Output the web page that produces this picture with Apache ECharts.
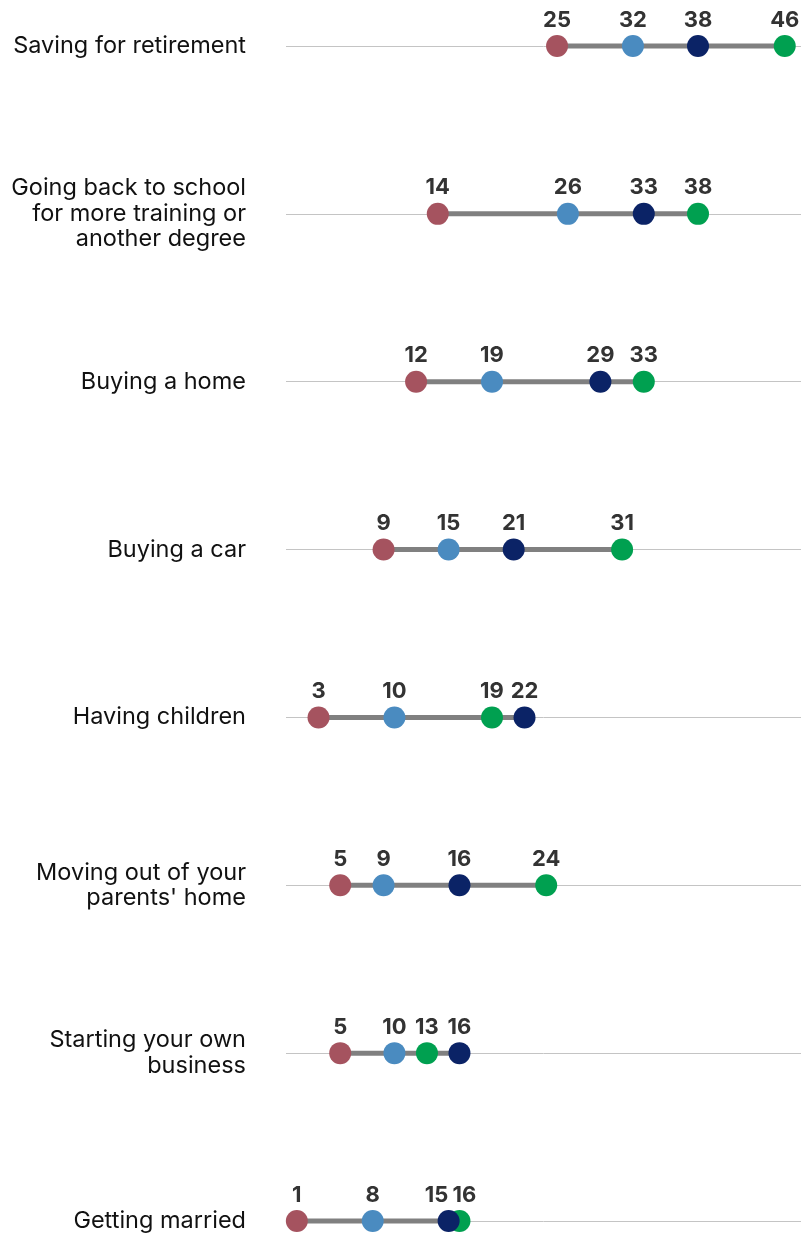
<!DOCTYPE html>
<html>
<head>
<meta charset="utf-8">
<script src="https://cdn.jsdelivr.net/npm/echarts@6/dist/echarts.min.js"></script>
<style>
  html, body { margin: 0; padding: 0; background: #ffffff; }
  #chart { width: 801px; height: 1235px; }
</style>
</head>
<body>
<div id="chart"></div>
<script>
// Life milestones, top to bottom
const categories = [
  'Saving for retirement',
  'Going back to school\nfor more training or\nanother degree',
  'Buying a home',
  'Buying a car',
  'Having children',
  "Moving out of your\nparents' home",
  'Starting your own\nbusiness',
  'Getting married'
];

// Percentages per group (same order as categories)
const groupRose  = [25, 14, 12, 9, 3, 5, 5, 1];
const groupBlue  = [32, 26, 19, 15, 10, 9, 10, 8];
const groupGreen = [46, 38, 33, 31, 19, 24, 13, 16];
const groupNavy  = [38, 33, 29, 21, 22, 16, 16, 15];

const groups = [
  { name: 'Group A', values: groupRose,  color: '#a5535f' },
  { name: 'Group B', values: groupBlue,  color: '#4a8bc0' },
  { name: 'Group C', values: groupGreen, color: '#00a050' },
  { name: 'Group D', values: groupNavy,  color: '#0b2366' }
];

// Span of each row: from the lowest to the highest value
const spans = categories.map((c, i) => {
  const vals = groups.map(g => g.values[i]);
  return [i, Math.min.apply(null, vals), Math.max.apply(null, vals)];
});

// Nudge value labels apart where two dots overlap
function labelShift(groupIdx, rowIdx) {
  const own = groups[groupIdx].values[rowIdx];
  let dx = 0;
  groups.forEach((g, k) => {
    if (k === groupIdx) return;
    const d = own - g.values[rowIdx];
    if (Math.abs(d) <= 1) dx += d > 0 ? 5 : -12;
  });
  return dx;
}

const chart = echarts.init(document.getElementById('chart'));

const option = {
  animation: false,
  grid: { left: 286, right: 0, top: 46, bottom: 14 },
  xAxis: {
    type: 'value',
    min: 0,
    max: 47.5,
    show: false
  },
  yAxis: {
    type: 'category',
    data: categories,
    inverse: true,
    boundaryGap: false,
    axisLine: { show: false },
    axisTick: { show: false },
    splitLine: { show: true, lineStyle: { color: '#c4c4c4', width: 1 } },
    axisLabel: {
      margin: 40,
      color: '#111111',
      fontFamily: 'Inter',
      fontSize: 23.5,
      lineHeight: 25.5,
      align: 'right'
    }
  },
  series: [
    {
      type: 'custom',
      z: 1,
      renderItem: function (params, api) {
        const cat = api.value(0);
        const a = api.coord([api.value(1), cat]);
        const b = api.coord([api.value(2), cat]);
        return {
          type: 'line',
          shape: { x1: a[0], y1: a[1], x2: b[0], y2: b[1] },
          style: { stroke: '#808080', lineWidth: 5 }
        };
      },
      encode: { x: [1, 2], y: 0 },
      data: spans
    }
  ].concat(groups.map((g, gi) => ({
    name: g.name,
    type: 'scatter',
    z: 2,
    symbolSize: 22,
    itemStyle: { color: g.color, opacity: 1 },
    label: {
      show: true,
      position: 'top',
      distance: 4,
      color: '#333333',
      fontFamily: 'Inter',
      fontWeight: 'bold',
      fontSize: 22,
      formatter: p => p.value[0]
    },
    data: g.values.map((v, i) => ({
      value: [v, i],
      label: { offset: [labelShift(gi, i), 0] }
    }))
  })))
};

chart.setOption(option);
</script>
</body>
</html>
